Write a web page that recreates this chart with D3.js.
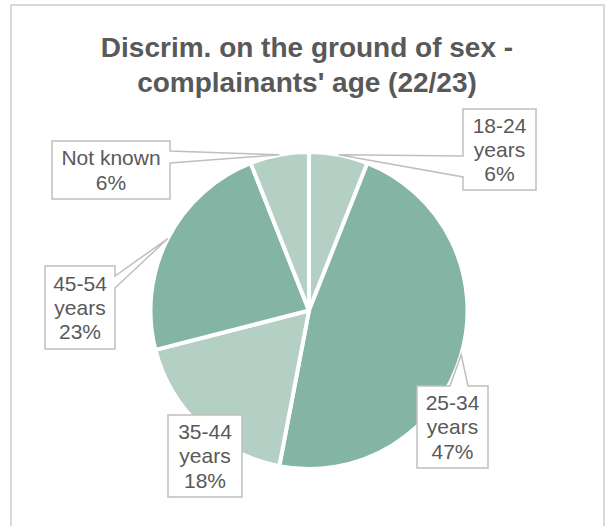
<!DOCTYPE html>
<html lang="en">

<head>
  <meta charset="utf-8">
  <title>Complainants' age</title>
  <script src="https://cdn.jsdelivr.net/npm/d3@7"></script>
  <style>
    body {
      margin: 0;
      background: #fff;
    }

    text {
      font-family: "Liberation Sans", Arial, sans-serif;
      fill: #595959;
    }

    .title {
      font-size: 28px;
      font-weight: bold;
    }

    .lbl {
      font-size: 21px;
    }
  </style>
</head>

<body>
  <svg id="chart" width="606" height="526"></svg>
</body>
<script>
  // data
  var categories = ["18-24 years", "25-34 years", "35-44 years", "45-54 years", "Not known"];
  var values = [6, 47, 18, 23, 6];
  var pctLabels = ["6%", "47%", "18%", "23%", "6%"];
  var titleLines = ["Discrim. on the ground of sex -", "complainants' age (22/23)"];

  // label box layout: x, y, w, h, which side the pointer leaves from
  var boxes = [
    { x: 463, y: 109, w: 73, h: 81, side: "left" },
    { x: 417, y: 386, w: 71, h: 82, side: "top" },
    { x: 168, y: 415, w: 74, h: 82, side: "none" },
    { x: 45, y: 266, w: 70, h: 83, side: "right" },
    { x: 52, y: 141, w: 118, h: 58, side: "right" }
  ];

  var W = 606, H = 526;
  var cx = 309, cy = 310.5, r = 158.5;
  var colors = ["#b4d0c4", "#84b4a4", "#b4d0c4", "#84b4a4", "#b4d0c4"];

  var svg = d3.select("#chart");

  // outer frame
  svg.append("rect")
    .attr("x", 11).attr("y", 5)
    .attr("width", 593).attr("height", H + 10)
    .attr("fill", "#fff")
    .attr("stroke", "#d9d9d9")
    .attr("stroke-width", 2);

  svg.selectAll(".title")
    .data(titleLines)
    .enter().append("text")
    .attr("class", "title")
    .attr("x", 307)
    .attr("y", function(d, i) { return 57 + i * 35; })
    .attr("text-anchor", "middle")
    .text(function(d) { return d; });

  var pie = d3.pie().sort(null).value(function(d) { return d; });
  var arcs = pie(values);
  var arc = d3.arc().innerRadius(0).outerRadius(r);

  var g = svg.append("g")
    .attr("transform", "translate(" + cx + "," + cy + ")");

  g.selectAll("path.slice")
    .data(arcs)
    .enter().append("path")
    .attr("class", "slice")
    .attr("d", arc)
    .attr("fill", function(d, i) { return colors[i]; })
    .attr("stroke", "#fff")
    .attr("stroke-width", 4)
    .attr("stroke-linejoin", "round");

  // callout path: box plus wedge towards the slice edge
  function callout(b, tip) {
    var x0 = b.x, y0 = b.y, x1 = b.x + b.w, y1 = b.y + b.h;
    if (b.side == "left") {
      var a = y0 + 47, c = y0 + 68;
      return "M" + x0 + "," + y0 + "H" + x1 + "V" + y1 + "H" + x0 + "V" + c +
        "L" + tip[0] + "," + tip[1] + "L" + x0 + "," + a + "Z";
    }
    if (b.side == "right") {
      var a2 = y0 + 10, c2 = y0 + 22;
      return "M" + x0 + "," + y0 + "H" + x1 + "V" + a2 + "L" + tip[0] + "," + tip[1] +
        "L" + x1 + "," + c2 + "V" + y1 + "H" + x0 + "Z";
    }
    if (b.side == "top") {
      var a3 = x0 + 33, c3 = x0 + 51;
      return "M" + x0 + "," + y0 + "H" + a3 + "L" + tip[0] + "," + tip[1] + "L" + c3 + "," + y0 +
        "H" + x1 + "V" + y1 + "H" + x0 + "Z";
    }
    return "M" + x0 + "," + y0 + "H" + x1 + "V" + y1 + "H" + x0 + "Z";
  }

  arcs.forEach(function(d, i) {
    var b = boxes[i];
    var mid = (d.startAngle + d.endAngle) / 2;
    var tip = [cx + r * Math.sin(mid), cy - r * Math.cos(mid)];

    svg.append("path")
      .attr("d", callout(b, tip))
      .attr("fill", "#fff")
      .attr("stroke", "#bfbfbf")
      .attr("stroke-width", 1.5);

    var lines = categories[i] == "Not known" ? [categories[i], pctLabels[i]] :
      categories[i].split(" ").concat([pctLabels[i]]);
    var lh = 24.3;
    var top = b.y + b.h / 2 - (lines.length * lh) / 2;

    svg.selectAll(null)
      .data(lines)
      .enter().append("text")
      .attr("class", "lbl")
      .attr("x", b.x + b.w / 2)
      .attr("y", function(t, j) { return top + j * lh + 19.5; })
      .attr("text-anchor", "middle")
      .text(function(t) { return t; });
  });
</script>

</html>
